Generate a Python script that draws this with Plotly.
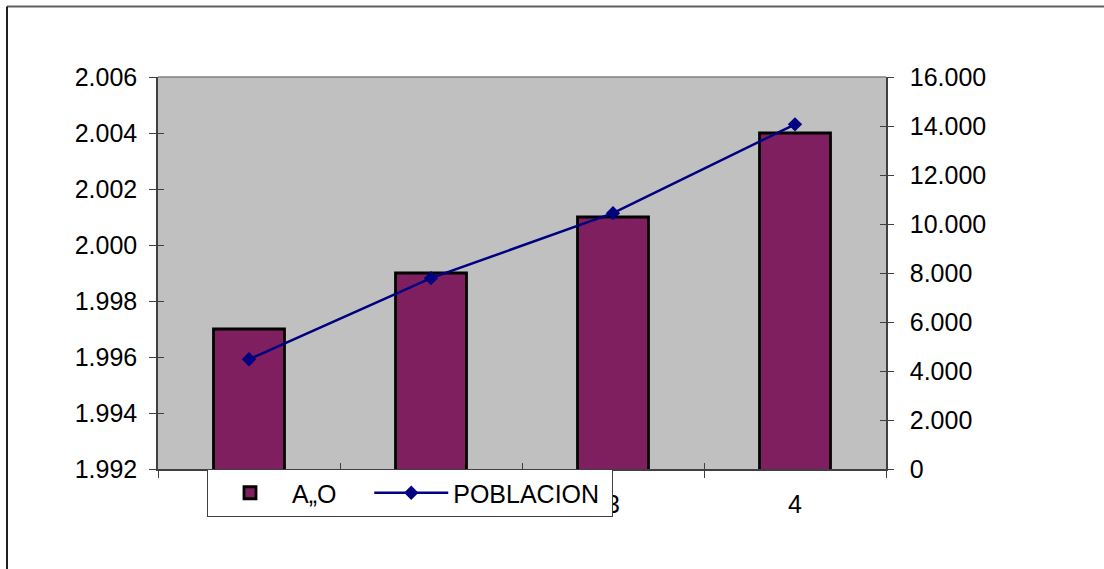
import plotly.graph_objects as go

# Chart data
categorias = ["1", "2", "3", "4"]
anios = [1997, 1999, 2001, 2004]
poblacion = [4480, 7790, 10440, 14070]

FONT = "Liberation Sans, Arial, sans-serif"
W, H = 1104, 569
L, R, T, B = 158, 218, 77, 100
pw, ph = W - L - R, H - T - B
NBSP = "\u00a0"


def px_x(v):
    return (v - L) / pw


def px_y(v):
    return (H - B - v) / ph


fig = go.Figure()

fig.add_trace(go.Bar(
    x=categorias, y=anios, name="A„O" + NBSP * 4,
    marker=dict(color="#7F1F5F", line=dict(color="#000000", width=2.8)),
    width=0.39, yaxis="y",
))

fig.add_trace(go.Scatter(
    x=categorias, y=poblacion, name="POBLACION" + NBSP, mode="lines+markers",
    line=dict(color="#000080", width=2.5),
    marker=dict(symbol="diamond", size=11, color="#000080"),
    yaxis="y2",
))

axis_line = dict(showline=True, linecolor="#404040", linewidth=1.5,
                 showgrid=False, zeroline=False, tickcolor="#404040",
                 tickwidth=1.2)

fig.update_layout(
    width=W, height=H,
    margin=dict(l=L, r=R, t=T, b=B, pad=0),
    paper_bgcolor="#FFFFFF",
    plot_bgcolor="#C0C0C0",
    separators=",.",
    font=dict(family=FONT, size=25, color="#000000"),
    xaxis=dict(type="category", categoryorder="array", categoryarray=categorias,
               range=[-0.5, 3.5], tickson="boundaries", ticks="outside",
               ticklen=7, ticklabelstandoff=12, **axis_line),
    yaxis=dict(range=[1992, 2006], tickvals=list(range(1992, 2007, 2)),
               tickformat=",d", ticks="outside", ticklen=7,
               ticklabelstandoff=7, **axis_line),
    yaxis2=dict(range=[0, 16000], tickvals=list(range(0, 16001, 2000)),
                tickformat=",d", overlaying="y", side="right", anchor="x",
                ticks="outside", ticklen=6, ticklabelstandoff=11, **axis_line),
    # inner halves of the crossing tick marks
    yaxis3=dict(range=[1992, 2006], tickvals=list(range(1992, 2007, 2)),
                overlaying="y", side="left", anchor="x", ticks="inside",
                ticklen=6, showticklabels=False, **axis_line),
    yaxis4=dict(range=[0, 16000], tickvals=list(range(0, 16001, 2000)),
                overlaying="y", side="right", anchor="x", ticks="inside",
                ticklen=6, showticklabels=False, **axis_line),
    xaxis2=dict(range=[0.5, 4.5], tickvals=[0.5, 1.5, 2.5, 3.5, 4.5],
                overlaying="x", side="bottom", anchor="y", ticks="inside",
                ticklen=6, showticklabels=False, **axis_line),
    showlegend=True,
    legend=dict(orientation="h", x=px_x(207), y=0, xanchor="left", yanchor="top",
                bgcolor="#FFFFFF", bordercolor="#404040", borderwidth=1,
                font=dict(family=FONT, size=25), itemwidth=74,
                traceorder="normal"),
    shapes=[
        # top plot-area border
        dict(type="line", xref="paper", yref="paper", x0=0, x1=1, y0=1, y1=1,
             line=dict(color="#808080", width=1.5)),
        # outer chart frame
        dict(type="line", xref="paper", yref="paper",
             x0=px_x(7), x1=px_x(1115), y0=px_y(6.5), y1=px_y(6.5),
             line=dict(color="#606060", width=2)),
        dict(type="line", xref="paper", yref="paper",
             x0=px_x(7), x1=px_x(7), y0=px_y(6.5), y1=px_y(580),
             line=dict(color="#202020", width=2)),
    ],
)

# dummy traces so the overlay axes get drawn
fig.add_trace(go.Scatter(x=[None], y=[None], yaxis="y3", showlegend=False, hoverinfo="skip"))
fig.add_trace(go.Scatter(x=[None], y=[None], yaxis="y4", showlegend=False, hoverinfo="skip"))
fig.add_trace(go.Scatter(x=[None], y=[None], xaxis="x2", showlegend=False, hoverinfo="skip"))

fig.write_html("out.html")
